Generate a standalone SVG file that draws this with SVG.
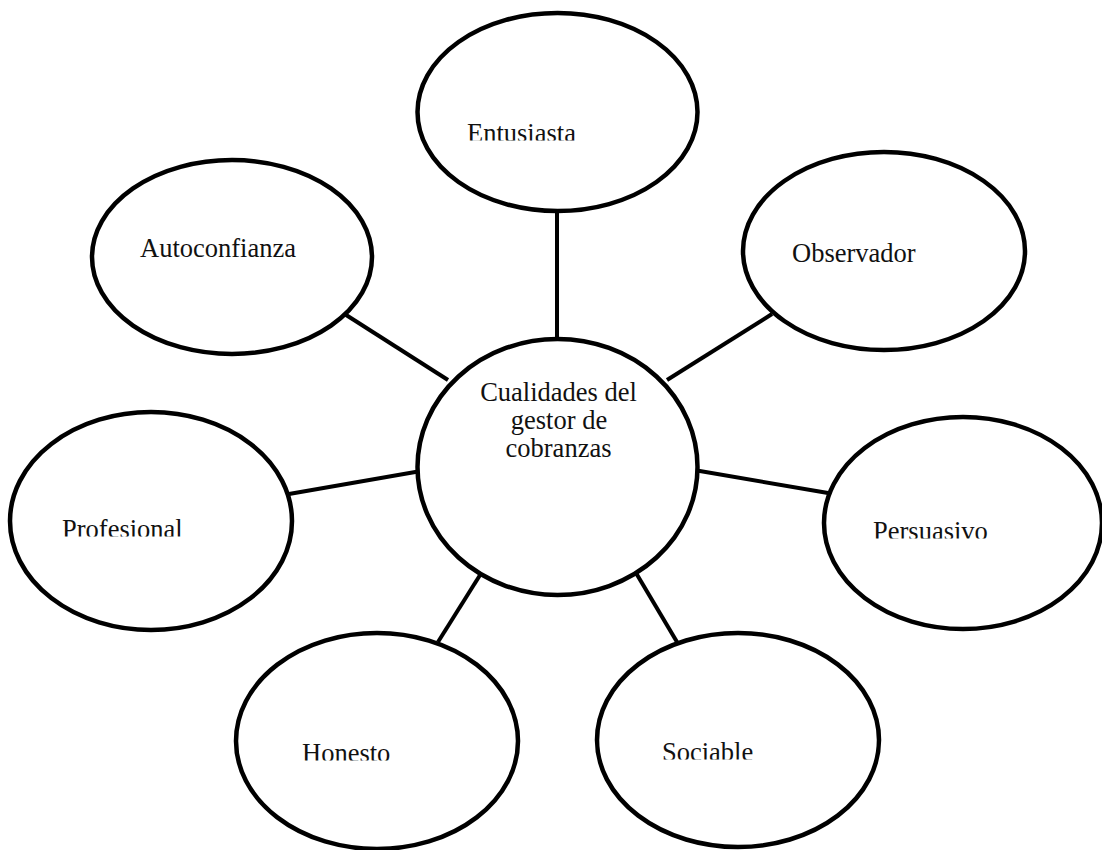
<svg xmlns="http://www.w3.org/2000/svg" width="1102" height="850" viewBox="0 0 1102 850">
  <style>
    .node { fill: #ffffff; stroke: #000000; stroke-width: 4.5; }
    .link { stroke: #000000; stroke-width: 4; fill: none; }
    .label { font-family: "Liberation Serif", "Times New Roman", serif; font-size: 26.5px; fill: #111111; }
  </style>
  <defs>
    <!-- labels sit in text frames that cut off the bottom of the line -->
    <clipPath id="clip-entusiasta"><rect x="440" y="100" width="200" height="40.5"/></clipPath>
    <clipPath id="clip-profesional"><rect x="40" y="495" width="200" height="41.5"/></clipPath>
    <clipPath id="clip-persuasivo"><rect x="850" y="495" width="200" height="43.5"/></clipPath>
    <clipPath id="clip-honesto"><rect x="280" y="720" width="200" height="40.5"/></clipPath>
    <clipPath id="clip-sociable"><rect x="640" y="720" width="200" height="39.5"/></clipPath>
  </defs>
  <rect width="1102" height="850" fill="#ffffff"/>

  <g id="connectors">
    <line class="link" x1="557" y1="210" x2="557" y2="340"/>
    <line class="link" x1="343" y1="313" x2="448" y2="380"/>
    <line class="link" x1="772" y1="314" x2="667" y2="380"/>
    <line class="link" x1="289" y1="494" x2="421" y2="471"/>
    <line class="link" x1="694" y1="470" x2="828" y2="493"/>
    <line class="link" x1="438" y1="642" x2="497" y2="548"/>
    <line class="link" x1="677" y1="642" x2="620" y2="546"/>
  </g>

  <g id="node-entusiasta">
    <ellipse class="node" cx="557.5" cy="112" rx="140" ry="99"/>
    <text class="label" x="467" y="142" clip-path="url(#clip-entusiasta)">Entusiasta</text>
  </g>

  <g id="node-autoconfianza">
    <ellipse class="node" cx="232" cy="257" rx="140" ry="97"/>
    <text class="label" x="140" y="256.5">Autoconfianza</text>
  </g>

  <g id="node-observador">
    <ellipse class="node" cx="884" cy="251" rx="141" ry="99"/>
    <text class="label" x="792" y="262">Observador</text>
  </g>

  <g id="node-centro">
    <ellipse class="node" cx="557.5" cy="467" rx="140" ry="128"/>
    <text class="label" text-anchor="middle" x="558.5" y="401">Cualidades del</text>
    <text class="label" text-anchor="middle" x="559" y="429">gestor de</text>
    <text class="label" text-anchor="middle" x="558.5" y="457">cobranzas</text>
  </g>

  <g id="node-profesional">
    <ellipse class="node" cx="151" cy="521" rx="141" ry="109"/>
    <text class="label" x="62" y="538" clip-path="url(#clip-profesional)">Profesional</text>
  </g>

  <g id="node-persuasivo">
    <ellipse class="node" cx="963" cy="523" rx="139" ry="106"/>
    <text class="label" x="873" y="540" clip-path="url(#clip-persuasivo)">Persuasivo</text>
  </g>

  <g id="node-honesto">
    <ellipse class="node" cx="377" cy="741" rx="141" ry="108"/>
    <text class="label" x="302" y="762" clip-path="url(#clip-honesto)">Honesto</text>
  </g>

  <g id="node-sociable">
    <ellipse class="node" cx="738" cy="740" rx="141" ry="107"/>
    <text class="label" x="662" y="761" clip-path="url(#clip-sociable)">Sociable</text>
  </g>
</svg>
